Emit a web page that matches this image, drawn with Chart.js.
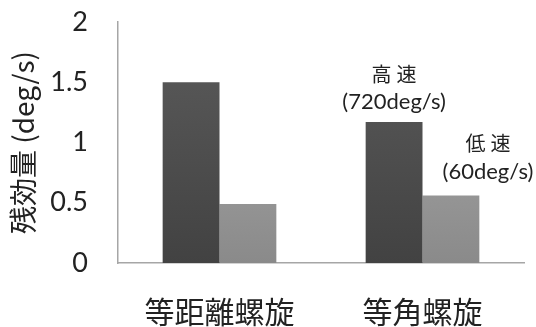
<!DOCTYPE html>
<html>
<head>
<meta charset="utf-8">
<script src="https://cdn.jsdelivr.net/npm/chart.js@4"></script>
<style>
    html, body { margin: 0; padding: 0; background: #ffffff; }
    #wrap { width: 536px; height: 327px; }
</style>
</head>
<body>
<div id="wrap"><canvas id="chart"></canvas></div>
<script>
// data
const categories = ['等距離螺旋', '等角螺旋'];
const highSpeed = [1.5, 1.17];
const lowSpeed = [0.49, 0.56];
const yTicks = [0, 0.5, 1, 1.5, 2];
const highNote = ['高速', '(720deg/s)'];
const lowNote = ['低速', '(60deg/s)'];

// vertical gradient between two greys, over the bar area
function barFill(top, bottom) {
    return (context) => {
        const area = context.chart.chartArea;
        if (!area) return bottom;
        const g = context.chart.ctx.createLinearGradient(0, area.top, 0, area.bottom);
        g.addColorStop(0, top);
        g.addColorStop(1, bottom);
        return g;
    };
}

// speed notes above the second group of bars
function drawNote(ctx, lines, x, y) {
    ctx.font = '20px "Noto Sans CJK JP"';
    ctx.letterSpacing = '5px';
    ctx.fillText(lines[0], x + 2.5, y - 28);
    ctx.font = '22px Lato';
    ctx.letterSpacing = '0px';
    ctx.fillText(lines[1], x, y);
}

const notesPlugin = {
    id: 'notes',
    afterDatasetsDraw(chart) {
        const ctx = chart.ctx;
        const hi = chart.getDatasetMeta(0).data[1];
        const lo = chart.getDatasetMeta(1).data[1];
        ctx.save();
        ctx.fillStyle = '#222222';
        ctx.textAlign = 'center';
        ctx.textBaseline = 'middle';
        drawNote(ctx, highNote, hi.x, hi.y - 20);
        drawNote(ctx, lowNote, lo.x + 37, lo.y - 24);
        ctx.restore();
    }
};

new Chart(document.getElementById('chart'), {
    type: 'bar',
    data: {
        labels: categories,
        datasets: [
            {
                label: '高速',
                data: highSpeed,
                backgroundColor: barFill('#5c5c5c', '#424242'),
                borderWidth: 0
            },
            {
                label: '低速',
                data: lowSpeed,
                backgroundColor: barFill('#b0b0b0', '#8a8a8a'),
                borderWidth: 0
            }
        ]
    },
    options: {
        responsive: true,
        maintainAspectRatio: false,
        animation: false,
        layout: { padding: { top: 22, right: 12, left: 0, bottom: 0 } },
        plugins: {
            legend: { display: false },
            tooltip: { enabled: false }
        },
        datasets: {
            bar: { barPercentage: 1, categoryPercentage: 0.56 }
        },
        scales: {
            x: {
                grid: { display: false, drawTicks: false },
                border: { color: '#a6a6a6', width: 1.5 },
                ticks: {
                    color: '#222222',
                    padding: 31,
                    font: { family: '"Noto Sans CJK JP"', size: 30 }
                },
                afterFit(scale) { scale.height = 64; }
            },
            y: {
                min: 0,
                max: 2,
                grid: { display: false, drawTicks: false },
                border: { color: '#a6a6a6', width: 1.5 },
                afterBuildTicks(scale) {
                    scale.ticks = yTicks.map(v => ({ value: v }));
                },
                ticks: {
                    color: '#222222',
                    padding: 30,
                    font: { family: 'Lato', size: 27 },
                    callback: (v) => String(v)
                },
                title: {
                    display: true,
                    text: '残効量 (deg/s)',
                    color: '#222222',
                    padding: { top: 7, bottom: 0 },
                    font: { family: '"Noto Sans CJK JP"', size: 28 }
                },
                afterFit(scale) {
                    // keep the plot area fixed; tick padding would otherwise push the top down
                    scale.width = 118;
                    scale.paddingTop = 0;
                    scale.paddingBottom = 0;
                }
            }
        }
    },
    plugins: [notesPlugin]
});
</script>
</body>
</html>
